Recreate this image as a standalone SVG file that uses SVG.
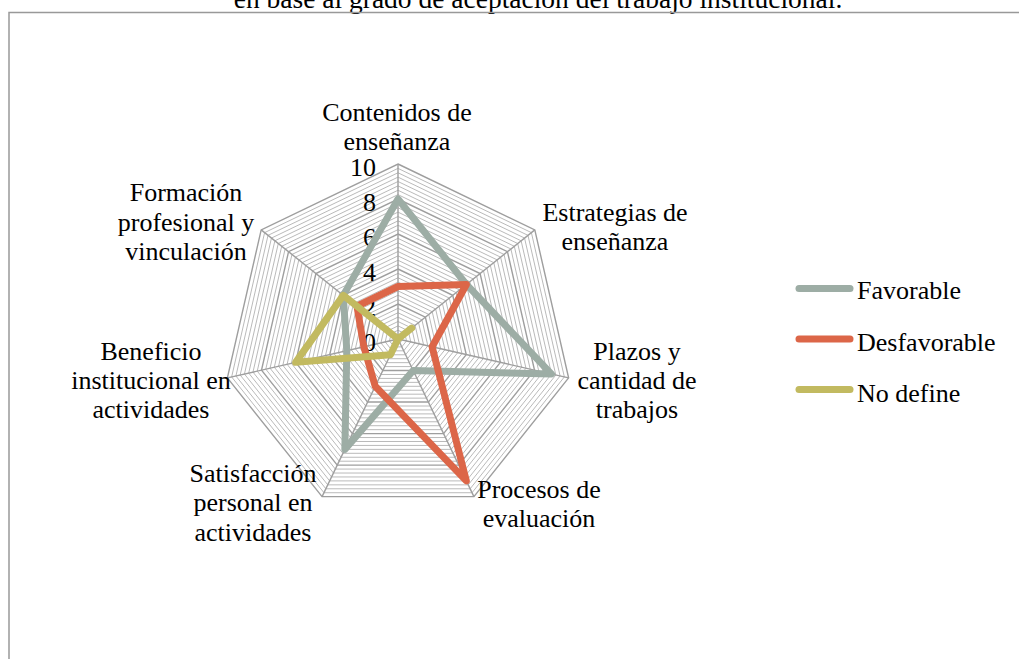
<svg xmlns="http://www.w3.org/2000/svg" xmlns:xlink="http://www.w3.org/1999/xlink" width="1019" height="659" viewBox="0 0 1019 659">
<style>
.t{font-family:"Liberation Serif","Times New Roman",serif;font-size:26px;fill:#000}
.c{text-anchor:middle}
.e{text-anchor:end}
.minor{fill:none;stroke:#bababa;stroke-width:1}
.major{fill:none;stroke:#9e9e9e;stroke-width:1.4}
.spoke{stroke:#9e9e9e;stroke-width:1.4}
.s{fill:none;stroke-width:7;stroke-linejoin:round;stroke-linecap:round}
.fav{stroke:#9dada5}
.des{stroke:#dc6648}
.nod{stroke:#c2ba60}
</style>
<defs>
<polygon id="h" points="0,-17.5 13.682,-10.911 17.061,3.894 7.593,15.767 -7.593,15.767 -17.061,3.894 -13.682,-10.911" vector-effect="non-scaling-stroke"/>
</defs>
<rect x="0" y="0" width="1019" height="659" fill="#fff"/>
<text class="t c" x="538" y="8" style="font-size:27.5px">en base al grado de aceptación del trabajo institucional.</text>
<rect x="9" y="12.5" width="1020" height="660" fill="none" stroke="#999" stroke-width="1.5"/>
<g id="grid" transform="translate(398,339)">
<g class="minor">
<use xlink:href="#h" transform="scale(0.25)"/><use xlink:href="#h" transform="scale(0.5)"/><use xlink:href="#h" transform="scale(0.75)"/><use xlink:href="#h" transform="scale(1)"/><use xlink:href="#h" transform="scale(1.25)"/><use xlink:href="#h" transform="scale(1.5)"/><use xlink:href="#h" transform="scale(1.75)"/>
<use xlink:href="#h" transform="scale(2.25)"/><use xlink:href="#h" transform="scale(2.5)"/><use xlink:href="#h" transform="scale(2.75)"/><use xlink:href="#h" transform="scale(3)"/><use xlink:href="#h" transform="scale(3.25)"/><use xlink:href="#h" transform="scale(3.5)"/><use xlink:href="#h" transform="scale(3.75)"/>
<use xlink:href="#h" transform="scale(4.25)"/><use xlink:href="#h" transform="scale(4.5)"/><use xlink:href="#h" transform="scale(4.75)"/><use xlink:href="#h" transform="scale(5)"/><use xlink:href="#h" transform="scale(5.25)"/><use xlink:href="#h" transform="scale(5.5)"/><use xlink:href="#h" transform="scale(5.75)"/>
<use xlink:href="#h" transform="scale(6.25)"/><use xlink:href="#h" transform="scale(6.5)"/><use xlink:href="#h" transform="scale(6.75)"/><use xlink:href="#h" transform="scale(7)"/><use xlink:href="#h" transform="scale(7.25)"/><use xlink:href="#h" transform="scale(7.5)"/><use xlink:href="#h" transform="scale(7.75)"/>
<use xlink:href="#h" transform="scale(8.25)"/><use xlink:href="#h" transform="scale(8.5)"/><use xlink:href="#h" transform="scale(8.75)"/><use xlink:href="#h" transform="scale(9)"/><use xlink:href="#h" transform="scale(9.25)"/><use xlink:href="#h" transform="scale(9.5)"/><use xlink:href="#h" transform="scale(9.75)"/>
</g>
<g class="major">
<use xlink:href="#h" transform="scale(2)"/><use xlink:href="#h" transform="scale(4)"/><use xlink:href="#h" transform="scale(6)"/><use xlink:href="#h" transform="scale(8)"/><use xlink:href="#h" transform="scale(10)"/>
</g>
<g class="spoke">
<line x1="0" y1="0" x2="0" y2="-175"/>
<line x1="0" y1="0" x2="136.82" y2="-109.11"/>
<line x1="0" y1="0" x2="170.61" y2="38.94"/>
<line x1="0" y1="0" x2="75.93" y2="157.67"/>
<line x1="0" y1="0" x2="-75.93" y2="157.67"/>
<line x1="0" y1="0" x2="-170.61" y2="38.94"/>
<line x1="0" y1="0" x2="-136.82" y2="-109.11"/>
</g>
</g>
<g id="axis-values" class="t e">
<text x="376" y="176">10</text>
<text x="376" y="211">8</text>
<text x="376" y="246">6</text>
<text x="376" y="281">4</text>
<text x="376" y="316">2</text>
<text x="376" y="351">0</text>
</g>
<g id="connectors">
<polygon class="s fav" points="398,199 466.41,284.44 551.55,374.05 413.19,370.53 344.85,449.37 346.82,350.68 343.27,295.36"/>
<polygon class="s des" points="398,286.5 466.41,284.44 432.12,346.79 466.34,480.9 375.22,386.3 363.88,346.79 356.95,306.27"/>
<polygon class="s nod" points="398,339 411.68,328.09 398,339 398,339 390.41,354.77 295.63,362.36 343.27,295.36"/>
</g>
<g id="label-contenidos" class="t c"><text x="397" y="121">Contenidos de</text><text x="397" y="150">enseñanza</text></g>
<g id="label-estrategias" class="t c"><text x="615" y="221">Estrategias de</text><text x="615" y="250">enseñanza</text></g>
<g id="label-plazos" class="t c"><text x="637" y="360">Plazos y</text><text x="637" y="389">cantidad de</text><text x="637" y="418">trabajos</text></g>
<g id="label-procesos" class="t c"><text x="539" y="498">Procesos de</text><text x="539" y="527">evaluación</text></g>
<g id="label-satisfaccion" class="t c"><text x="253" y="482">Satisfacción</text><text x="253" y="511">personal en</text><text x="253" y="541">actividades</text></g>
<g id="label-beneficio" class="t c"><text x="151" y="360">Beneficio</text><text x="151" y="389">institucional en</text><text x="151" y="418">actividades</text></g>
<g id="label-formacion" class="t c"><text x="186" y="201">Formación</text><text x="186" y="231">profesional y</text><text x="186" y="260">vinculación</text></g>
<g id="legend">
<line class="s fav" x1="799" y1="288.5" x2="850" y2="288.5"/>
<text class="t" x="857" y="299">Favorable</text>
<line class="s des" x1="799" y1="339" x2="850" y2="339"/>
<text class="t" x="857" y="350.5">Desfavorable</text>
<line class="s nod" x1="799" y1="389.5" x2="850" y2="389.5"/>
<text class="t" x="857" y="401.5">No define</text>
</g>
</svg>
